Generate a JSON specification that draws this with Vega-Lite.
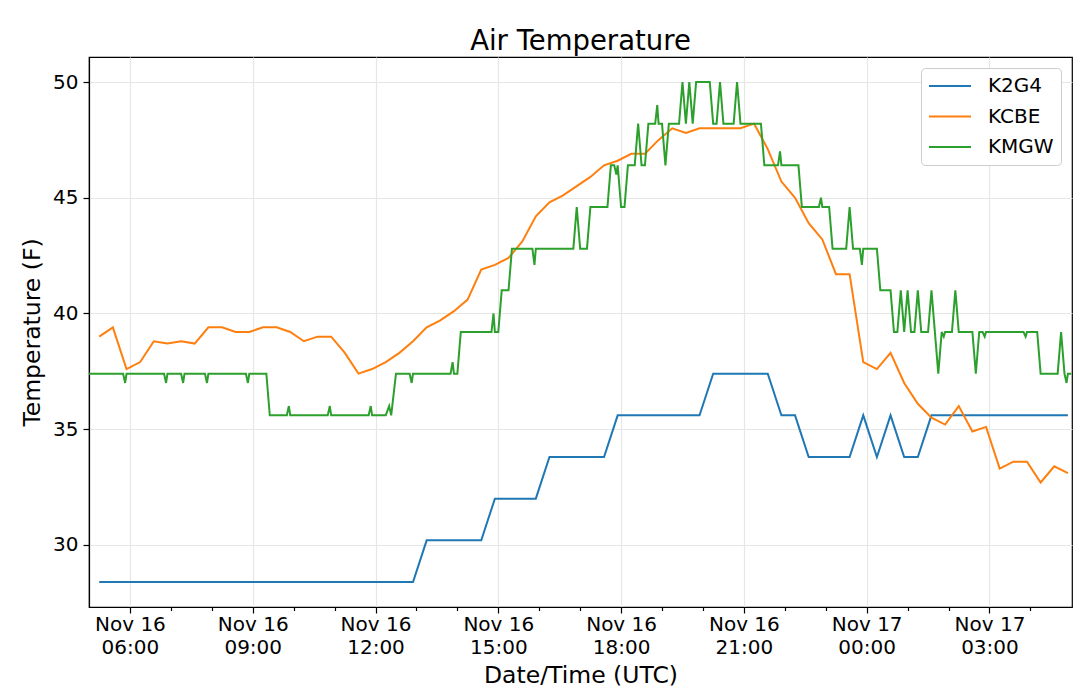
{
  "$schema": "https://vega.github.io/schema/vega-lite/v6.json",
  "autosize": "none",
  "width": 983,
  "height": 550,
  "padding": {"left": 89, "top": 57, "right": 8, "bottom": 82},
  "background": "white",
  "title": {"text": "Air Temperature", "fontSize": 27.5, "fontWeight": "normal", "color": "black", "anchor": "middle", "frame": "group", "offset": 2},
  "data": {
    "values": [
      {"time": "2019-11-16T05:15Z", "station": "K2G4", "temp": 28.4},
      {"time": "2019-11-16T12:55Z", "station": "K2G4", "temp": 28.4},
      {"time": "2019-11-16T13:15Z", "station": "K2G4", "temp": 30.2},
      {"time": "2019-11-16T14:35Z", "station": "K2G4", "temp": 30.2},
      {"time": "2019-11-16T14:55Z", "station": "K2G4", "temp": 32.0},
      {"time": "2019-11-16T15:55Z", "station": "K2G4", "temp": 32.0},
      {"time": "2019-11-16T16:15Z", "station": "K2G4", "temp": 33.8},
      {"time": "2019-11-16T17:35Z", "station": "K2G4", "temp": 33.8},
      {"time": "2019-11-16T17:55Z", "station": "K2G4", "temp": 35.6},
      {"time": "2019-11-16T19:55Z", "station": "K2G4", "temp": 35.6},
      {"time": "2019-11-16T20:15Z", "station": "K2G4", "temp": 37.4},
      {"time": "2019-11-16T21:35Z", "station": "K2G4", "temp": 37.4},
      {"time": "2019-11-16T21:55Z", "station": "K2G4", "temp": 35.6},
      {"time": "2019-11-16T22:15Z", "station": "K2G4", "temp": 35.6},
      {"time": "2019-11-16T22:35Z", "station": "K2G4", "temp": 33.8},
      {"time": "2019-11-16T23:35Z", "station": "K2G4", "temp": 33.8},
      {"time": "2019-11-16T23:55Z", "station": "K2G4", "temp": 35.6},
      {"time": "2019-11-17T00:15Z", "station": "K2G4", "temp": 33.8},
      {"time": "2019-11-17T00:35Z", "station": "K2G4", "temp": 35.6},
      {"time": "2019-11-17T00:55Z", "station": "K2G4", "temp": 33.8},
      {"time": "2019-11-17T01:15Z", "station": "K2G4", "temp": 33.8},
      {"time": "2019-11-17T01:35Z", "station": "K2G4", "temp": 35.6},
      {"time": "2019-11-17T04:55Z", "station": "K2G4", "temp": 35.6},

      {"time": "2019-11-16T05:15Z", "station": "KCBE", "temp": 39.0},
      {"time": "2019-11-16T05:35Z", "station": "KCBE", "temp": 39.4},
      {"time": "2019-11-16T05:55Z", "station": "KCBE", "temp": 37.6},
      {"time": "2019-11-16T06:15Z", "station": "KCBE", "temp": 37.9},
      {"time": "2019-11-16T06:35Z", "station": "KCBE", "temp": 38.8},
      {"time": "2019-11-16T06:55Z", "station": "KCBE", "temp": 38.7},
      {"time": "2019-11-16T07:15Z", "station": "KCBE", "temp": 38.8},
      {"time": "2019-11-16T07:35Z", "station": "KCBE", "temp": 38.7},
      {"time": "2019-11-16T07:55Z", "station": "KCBE", "temp": 39.4},
      {"time": "2019-11-16T08:15Z", "station": "KCBE", "temp": 39.4},
      {"time": "2019-11-16T08:35Z", "station": "KCBE", "temp": 39.2},
      {"time": "2019-11-16T08:55Z", "station": "KCBE", "temp": 39.2},
      {"time": "2019-11-16T09:15Z", "station": "KCBE", "temp": 39.4},
      {"time": "2019-11-16T09:35Z", "station": "KCBE", "temp": 39.4},
      {"time": "2019-11-16T09:55Z", "station": "KCBE", "temp": 39.2},
      {"time": "2019-11-16T10:15Z", "station": "KCBE", "temp": 38.8},
      {"time": "2019-11-16T10:35Z", "station": "KCBE", "temp": 39.0},
      {"time": "2019-11-16T10:55Z", "station": "KCBE", "temp": 39.0},
      {"time": "2019-11-16T11:15Z", "station": "KCBE", "temp": 38.3},
      {"time": "2019-11-16T11:35Z", "station": "KCBE", "temp": 37.4},
      {"time": "2019-11-16T11:55Z", "station": "KCBE", "temp": 37.6},
      {"time": "2019-11-16T12:15Z", "station": "KCBE", "temp": 37.9},
      {"time": "2019-11-16T12:35Z", "station": "KCBE", "temp": 38.3},
      {"time": "2019-11-16T12:55Z", "station": "KCBE", "temp": 38.8},
      {"time": "2019-11-16T13:15Z", "station": "KCBE", "temp": 39.4},
      {"time": "2019-11-16T13:35Z", "station": "KCBE", "temp": 39.7},
      {"time": "2019-11-16T13:55Z", "station": "KCBE", "temp": 40.1},
      {"time": "2019-11-16T14:15Z", "station": "KCBE", "temp": 40.6},
      {"time": "2019-11-16T14:35Z", "station": "KCBE", "temp": 41.9},
      {"time": "2019-11-16T14:55Z", "station": "KCBE", "temp": 42.1},
      {"time": "2019-11-16T15:15Z", "station": "KCBE", "temp": 42.4},
      {"time": "2019-11-16T15:35Z", "station": "KCBE", "temp": 43.1},
      {"time": "2019-11-16T15:55Z", "station": "KCBE", "temp": 44.2},
      {"time": "2019-11-16T16:15Z", "station": "KCBE", "temp": 44.8},
      {"time": "2019-11-16T16:35Z", "station": "KCBE", "temp": 45.1},
      {"time": "2019-11-16T16:55Z", "station": "KCBE", "temp": 45.5},
      {"time": "2019-11-16T17:15Z", "station": "KCBE", "temp": 45.9},
      {"time": "2019-11-16T17:35Z", "station": "KCBE", "temp": 46.4},
      {"time": "2019-11-16T17:55Z", "station": "KCBE", "temp": 46.6},
      {"time": "2019-11-16T18:15Z", "station": "KCBE", "temp": 46.9},
      {"time": "2019-11-16T18:35Z", "station": "KCBE", "temp": 46.9},
      {"time": "2019-11-16T18:55Z", "station": "KCBE", "temp": 47.5},
      {"time": "2019-11-16T19:15Z", "station": "KCBE", "temp": 48.0},
      {"time": "2019-11-16T19:35Z", "station": "KCBE", "temp": 47.8},
      {"time": "2019-11-16T19:55Z", "station": "KCBE", "temp": 48.0},
      {"time": "2019-11-16T20:15Z", "station": "KCBE", "temp": 48.0},
      {"time": "2019-11-16T20:35Z", "station": "KCBE", "temp": 48.0},
      {"time": "2019-11-16T20:55Z", "station": "KCBE", "temp": 48.0},
      {"time": "2019-11-16T21:15Z", "station": "KCBE", "temp": 48.2},
      {"time": "2019-11-16T21:35Z", "station": "KCBE", "temp": 47.1},
      {"time": "2019-11-16T21:55Z", "station": "KCBE", "temp": 45.7},
      {"time": "2019-11-16T22:15Z", "station": "KCBE", "temp": 45.0},
      {"time": "2019-11-16T22:35Z", "station": "KCBE", "temp": 43.9},
      {"time": "2019-11-16T22:55Z", "station": "KCBE", "temp": 43.2},
      {"time": "2019-11-16T23:15Z", "station": "KCBE", "temp": 41.7},
      {"time": "2019-11-16T23:35Z", "station": "KCBE", "temp": 41.7},
      {"time": "2019-11-16T23:55Z", "station": "KCBE", "temp": 37.9},
      {"time": "2019-11-17T00:15Z", "station": "KCBE", "temp": 37.6},
      {"time": "2019-11-17T00:35Z", "station": "KCBE", "temp": 38.3},
      {"time": "2019-11-17T00:55Z", "station": "KCBE", "temp": 37.0},
      {"time": "2019-11-17T01:15Z", "station": "KCBE", "temp": 36.1},
      {"time": "2019-11-17T01:35Z", "station": "KCBE", "temp": 35.5},
      {"time": "2019-11-17T01:55Z", "station": "KCBE", "temp": 35.2},
      {"time": "2019-11-17T02:15Z", "station": "KCBE", "temp": 36.0},
      {"time": "2019-11-17T02:35Z", "station": "KCBE", "temp": 34.9},
      {"time": "2019-11-17T02:55Z", "station": "KCBE", "temp": 35.1},
      {"time": "2019-11-17T03:15Z", "station": "KCBE", "temp": 33.3},
      {"time": "2019-11-17T03:35Z", "station": "KCBE", "temp": 33.6},
      {"time": "2019-11-17T03:55Z", "station": "KCBE", "temp": 33.6},
      {"time": "2019-11-17T04:15Z", "station": "KCBE", "temp": 32.7},
      {"time": "2019-11-17T04:35Z", "station": "KCBE", "temp": 33.4},
      {"time": "2019-11-17T04:55Z", "station": "KCBE", "temp": 33.1},

      {"time": "2019-11-16T05:00Z", "station": "KMGW", "temp": 37.4},
      {"time": "2019-11-16T05:50Z", "station": "KMGW", "temp": 37.4},
      {"time": "2019-11-16T05:53Z", "station": "KMGW", "temp": 37.0},
      {"time": "2019-11-16T05:55Z", "station": "KMGW", "temp": 37.4},
      {"time": "2019-11-16T06:50Z", "station": "KMGW", "temp": 37.4},
      {"time": "2019-11-16T06:53Z", "station": "KMGW", "temp": 37.0},
      {"time": "2019-11-16T06:55Z", "station": "KMGW", "temp": 37.4},
      {"time": "2019-11-16T07:15Z", "station": "KMGW", "temp": 37.4},
      {"time": "2019-11-16T07:18Z", "station": "KMGW", "temp": 37.0},
      {"time": "2019-11-16T07:20Z", "station": "KMGW", "temp": 37.4},
      {"time": "2019-11-16T07:50Z", "station": "KMGW", "temp": 37.4},
      {"time": "2019-11-16T07:53Z", "station": "KMGW", "temp": 37.0},
      {"time": "2019-11-16T07:55Z", "station": "KMGW", "temp": 37.4},
      {"time": "2019-11-16T08:50Z", "station": "KMGW", "temp": 37.4},
      {"time": "2019-11-16T08:53Z", "station": "KMGW", "temp": 37.0},
      {"time": "2019-11-16T08:55Z", "station": "KMGW", "temp": 37.4},
      {"time": "2019-11-16T09:20Z", "station": "KMGW", "temp": 37.4},
      {"time": "2019-11-16T09:25Z", "station": "KMGW", "temp": 35.6},
      {"time": "2019-11-16T09:50Z", "station": "KMGW", "temp": 35.6},
      {"time": "2019-11-16T09:53Z", "station": "KMGW", "temp": 36.0},
      {"time": "2019-11-16T09:55Z", "station": "KMGW", "temp": 35.6},
      {"time": "2019-11-16T10:50Z", "station": "KMGW", "temp": 35.6},
      {"time": "2019-11-16T10:53Z", "station": "KMGW", "temp": 36.0},
      {"time": "2019-11-16T10:55Z", "station": "KMGW", "temp": 35.6},
      {"time": "2019-11-16T11:50Z", "station": "KMGW", "temp": 35.6},
      {"time": "2019-11-16T11:53Z", "station": "KMGW", "temp": 36.0},
      {"time": "2019-11-16T11:55Z", "station": "KMGW", "temp": 35.6},
      {"time": "2019-11-16T12:15Z", "station": "KMGW", "temp": 35.6},
      {"time": "2019-11-16T12:20Z", "station": "KMGW", "temp": 36.0},
      {"time": "2019-11-16T12:23Z", "station": "KMGW", "temp": 35.6},
      {"time": "2019-11-16T12:30Z", "station": "KMGW", "temp": 37.4},
      {"time": "2019-11-16T12:50Z", "station": "KMGW", "temp": 37.4},
      {"time": "2019-11-16T12:53Z", "station": "KMGW", "temp": 37.0},
      {"time": "2019-11-16T12:55Z", "station": "KMGW", "temp": 37.4},
      {"time": "2019-11-16T13:50Z", "station": "KMGW", "temp": 37.4},
      {"time": "2019-11-16T13:53Z", "station": "KMGW", "temp": 37.9},
      {"time": "2019-11-16T13:55Z", "station": "KMGW", "temp": 37.4},
      {"time": "2019-11-16T14:00Z", "station": "KMGW", "temp": 37.4},
      {"time": "2019-11-16T14:05Z", "station": "KMGW", "temp": 39.2},
      {"time": "2019-11-16T14:50Z", "station": "KMGW", "temp": 39.2},
      {"time": "2019-11-16T14:53Z", "station": "KMGW", "temp": 40.0},
      {"time": "2019-11-16T14:55Z", "station": "KMGW", "temp": 39.2},
      {"time": "2019-11-16T15:00Z", "station": "KMGW", "temp": 39.2},
      {"time": "2019-11-16T15:05Z", "station": "KMGW", "temp": 41.0},
      {"time": "2019-11-16T15:15Z", "station": "KMGW", "temp": 41.0},
      {"time": "2019-11-16T15:20Z", "station": "KMGW", "temp": 42.8},
      {"time": "2019-11-16T15:50Z", "station": "KMGW", "temp": 42.8},
      {"time": "2019-11-16T15:53Z", "station": "KMGW", "temp": 42.1},
      {"time": "2019-11-16T15:55Z", "station": "KMGW", "temp": 42.8},
      {"time": "2019-11-16T16:50Z", "station": "KMGW", "temp": 42.8},
      {"time": "2019-11-16T16:55Z", "station": "KMGW", "temp": 44.6},
      {"time": "2019-11-16T17:00Z", "station": "KMGW", "temp": 42.8},
      {"time": "2019-11-16T17:10Z", "station": "KMGW", "temp": 42.8},
      {"time": "2019-11-16T17:15Z", "station": "KMGW", "temp": 44.6},
      {"time": "2019-11-16T17:40Z", "station": "KMGW", "temp": 44.6},
      {"time": "2019-11-16T17:45Z", "station": "KMGW", "temp": 46.4},
      {"time": "2019-11-16T17:50Z", "station": "KMGW", "temp": 46.4},
      {"time": "2019-11-16T17:53Z", "station": "KMGW", "temp": 46.0},
      {"time": "2019-11-16T17:55Z", "station": "KMGW", "temp": 46.4},
      {"time": "2019-11-16T18:00Z", "station": "KMGW", "temp": 44.6},
      {"time": "2019-11-16T18:05Z", "station": "KMGW", "temp": 44.6},
      {"time": "2019-11-16T18:10Z", "station": "KMGW", "temp": 46.4},
      {"time": "2019-11-16T18:20Z", "station": "KMGW", "temp": 46.4},
      {"time": "2019-11-16T18:25Z", "station": "KMGW", "temp": 48.2},
      {"time": "2019-11-16T18:30Z", "station": "KMGW", "temp": 46.4},
      {"time": "2019-11-16T18:35Z", "station": "KMGW", "temp": 46.4},
      {"time": "2019-11-16T18:40Z", "station": "KMGW", "temp": 48.2},
      {"time": "2019-11-16T18:50Z", "station": "KMGW", "temp": 48.2},
      {"time": "2019-11-16T18:53Z", "station": "KMGW", "temp": 49.0},
      {"time": "2019-11-16T18:55Z", "station": "KMGW", "temp": 48.2},
      {"time": "2019-11-16T19:00Z", "station": "KMGW", "temp": 48.2},
      {"time": "2019-11-16T19:05Z", "station": "KMGW", "temp": 46.4},
      {"time": "2019-11-16T19:10Z", "station": "KMGW", "temp": 48.2},
      {"time": "2019-11-16T19:25Z", "station": "KMGW", "temp": 48.2},
      {"time": "2019-11-16T19:30Z", "station": "KMGW", "temp": 50.0},
      {"time": "2019-11-16T19:35Z", "station": "KMGW", "temp": 48.2},
      {"time": "2019-11-16T19:40Z", "station": "KMGW", "temp": 50.0},
      {"time": "2019-11-16T19:45Z", "station": "KMGW", "temp": 48.2},
      {"time": "2019-11-16T19:50Z", "station": "KMGW", "temp": 50.0},
      {"time": "2019-11-16T20:10Z", "station": "KMGW", "temp": 50.0},
      {"time": "2019-11-16T20:15Z", "station": "KMGW", "temp": 48.2},
      {"time": "2019-11-16T20:20Z", "station": "KMGW", "temp": 48.2},
      {"time": "2019-11-16T20:25Z", "station": "KMGW", "temp": 50.0},
      {"time": "2019-11-16T20:30Z", "station": "KMGW", "temp": 48.2},
      {"time": "2019-11-16T20:45Z", "station": "KMGW", "temp": 48.2},
      {"time": "2019-11-16T20:50Z", "station": "KMGW", "temp": 50.0},
      {"time": "2019-11-16T20:55Z", "station": "KMGW", "temp": 48.2},
      {"time": "2019-11-16T21:25Z", "station": "KMGW", "temp": 48.2},
      {"time": "2019-11-16T21:30Z", "station": "KMGW", "temp": 46.4},
      {"time": "2019-11-16T21:50Z", "station": "KMGW", "temp": 46.4},
      {"time": "2019-11-16T21:53Z", "station": "KMGW", "temp": 47.0},
      {"time": "2019-11-16T21:55Z", "station": "KMGW", "temp": 46.4},
      {"time": "2019-11-16T22:20Z", "station": "KMGW", "temp": 46.4},
      {"time": "2019-11-16T22:25Z", "station": "KMGW", "temp": 44.6},
      {"time": "2019-11-16T22:50Z", "station": "KMGW", "temp": 44.6},
      {"time": "2019-11-16T22:53Z", "station": "KMGW", "temp": 45.0},
      {"time": "2019-11-16T22:55Z", "station": "KMGW", "temp": 44.6},
      {"time": "2019-11-16T23:05Z", "station": "KMGW", "temp": 44.6},
      {"time": "2019-11-16T23:10Z", "station": "KMGW", "temp": 42.8},
      {"time": "2019-11-16T23:30Z", "station": "KMGW", "temp": 42.8},
      {"time": "2019-11-16T23:35Z", "station": "KMGW", "temp": 44.6},
      {"time": "2019-11-16T23:40Z", "station": "KMGW", "temp": 42.8},
      {"time": "2019-11-16T23:50Z", "station": "KMGW", "temp": 42.8},
      {"time": "2019-11-16T23:53Z", "station": "KMGW", "temp": 42.1},
      {"time": "2019-11-16T23:55Z", "station": "KMGW", "temp": 42.8},
      {"time": "2019-11-17T00:15Z", "station": "KMGW", "temp": 42.8},
      {"time": "2019-11-17T00:20Z", "station": "KMGW", "temp": 41.0},
      {"time": "2019-11-17T00:35Z", "station": "KMGW", "temp": 41.0},
      {"time": "2019-11-17T00:40Z", "station": "KMGW", "temp": 39.2},
      {"time": "2019-11-17T00:45Z", "station": "KMGW", "temp": 39.2},
      {"time": "2019-11-17T00:50Z", "station": "KMGW", "temp": 41.0},
      {"time": "2019-11-17T00:55Z", "station": "KMGW", "temp": 39.2},
      {"time": "2019-11-17T01:00Z", "station": "KMGW", "temp": 41.0},
      {"time": "2019-11-17T01:05Z", "station": "KMGW", "temp": 39.2},
      {"time": "2019-11-17T01:10Z", "station": "KMGW", "temp": 39.2},
      {"time": "2019-11-17T01:15Z", "station": "KMGW", "temp": 41.0},
      {"time": "2019-11-17T01:20Z", "station": "KMGW", "temp": 39.2},
      {"time": "2019-11-17T01:30Z", "station": "KMGW", "temp": 39.2},
      {"time": "2019-11-17T01:35Z", "station": "KMGW", "temp": 41.0},
      {"time": "2019-11-17T01:45Z", "station": "KMGW", "temp": 37.4},
      {"time": "2019-11-17T01:50Z", "station": "KMGW", "temp": 39.2},
      {"time": "2019-11-17T01:53Z", "station": "KMGW", "temp": 39.0},
      {"time": "2019-11-17T01:55Z", "station": "KMGW", "temp": 39.2},
      {"time": "2019-11-17T02:05Z", "station": "KMGW", "temp": 39.2},
      {"time": "2019-11-17T02:10Z", "station": "KMGW", "temp": 41.0},
      {"time": "2019-11-17T02:15Z", "station": "KMGW", "temp": 39.2},
      {"time": "2019-11-17T02:35Z", "station": "KMGW", "temp": 39.2},
      {"time": "2019-11-17T02:40Z", "station": "KMGW", "temp": 37.4},
      {"time": "2019-11-17T02:45Z", "station": "KMGW", "temp": 39.2},
      {"time": "2019-11-17T02:50Z", "station": "KMGW", "temp": 39.2},
      {"time": "2019-11-17T02:53Z", "station": "KMGW", "temp": 39.0},
      {"time": "2019-11-17T02:55Z", "station": "KMGW", "temp": 39.2},
      {"time": "2019-11-17T03:50Z", "station": "KMGW", "temp": 39.2},
      {"time": "2019-11-17T03:53Z", "station": "KMGW", "temp": 39.0},
      {"time": "2019-11-17T03:55Z", "station": "KMGW", "temp": 39.2},
      {"time": "2019-11-17T04:10Z", "station": "KMGW", "temp": 39.2},
      {"time": "2019-11-17T04:15Z", "station": "KMGW", "temp": 37.4},
      {"time": "2019-11-17T04:40Z", "station": "KMGW", "temp": 37.4},
      {"time": "2019-11-17T04:45Z", "station": "KMGW", "temp": 39.2},
      {"time": "2019-11-17T04:50Z", "station": "KMGW", "temp": 37.4},
      {"time": "2019-11-17T04:53Z", "station": "KMGW", "temp": 37.0},
      {"time": "2019-11-17T04:55Z", "station": "KMGW", "temp": 37.4},
      {"time": "2019-11-17T05:00Z", "station": "KMGW", "temp": 37.4}
    ]
  },
  "encoding": {
    "y": {
      "field": "temp", "type": "quantitative",
      "scale": {"domain": [27.32, 51.08], "nice": false, "zero": false},
      "axis": {"title": "Temperature (F)", "values": [30, 35, 40, 45, 50], "format": "d", "titlePadding": 8}
    }
  },
  "layer": [
    {
      "mark": {"type": "line", "strokeWidth": 2},
      "encoding": {
        "x": {
          "field": "time", "type": "temporal",
          "scale": {"type": "utc", "nice": false, "domain": [
            {"year": 2019, "month": 11, "date": 16, "hours": 5, "utc": true},
            {"year": 2019, "month": 11, "date": 17, "hours": 5, "minutes": 1, "utc": true}
          ]},
          "axis": {
            "title": "Date/Time (UTC)",
            "orient": "bottom",
            "values": [
              {"year": 2019, "month": 11, "date": 16, "hours": 6, "utc": true},
              {"year": 2019, "month": 11, "date": 16, "hours": 9, "utc": true},
              {"year": 2019, "month": 11, "date": 16, "hours": 12, "utc": true},
              {"year": 2019, "month": 11, "date": 16, "hours": 15, "utc": true},
              {"year": 2019, "month": 11, "date": 16, "hours": 18, "utc": true},
              {"year": 2019, "month": 11, "date": 16, "hours": 21, "utc": true},
              {"year": 2019, "month": 11, "date": 17, "hours": 0, "utc": true},
              {"year": 2019, "month": 11, "date": 17, "hours": 3, "utc": true}
            ],
            "labelExpr": "[utcFormat(datum.value, '%b %d'), utcFormat(datum.value, '%H:%M')]",
            "labelLineHeight": 23.5,
            "labelPadding": 1,
            "titlePadding": 6
          }
        },
        "color": {
          "field": "station", "type": "nominal",
          "scale": {"domain": ["K2G4", "KCBE", "KMGW"], "range": ["#1f77b4", "#ff7f0e", "#2ca02c"]},
          "legend": {"title": null}
        }
      }
    },
    {
      "mark": {"type": "line", "strokeOpacity": 0},
      "encoding": {
        "x": {
          "field": "time", "type": "temporal",
          "axis": {
            "orient": "bottom",
            "title": null,
            "labels": false,
            "grid": false,
            "domain": false,
            "tickSize": 3.5,
            "values": [
              {"year": 2019, "month": 11, "date": 16, "hours": 7, "utc": true},
              {"year": 2019, "month": 11, "date": 16, "hours": 8, "utc": true},
              {"year": 2019, "month": 11, "date": 16, "hours": 10, "utc": true},
              {"year": 2019, "month": 11, "date": 16, "hours": 11, "utc": true},
              {"year": 2019, "month": 11, "date": 16, "hours": 13, "utc": true},
              {"year": 2019, "month": 11, "date": 16, "hours": 14, "utc": true},
              {"year": 2019, "month": 11, "date": 16, "hours": 16, "utc": true},
              {"year": 2019, "month": 11, "date": 16, "hours": 17, "utc": true},
              {"year": 2019, "month": 11, "date": 16, "hours": 19, "utc": true},
              {"year": 2019, "month": 11, "date": 16, "hours": 20, "utc": true},
              {"year": 2019, "month": 11, "date": 16, "hours": 22, "utc": true},
              {"year": 2019, "month": 11, "date": 16, "hours": 23, "utc": true},
              {"year": 2019, "month": 11, "date": 17, "hours": 1, "utc": true},
              {"year": 2019, "month": 11, "date": 17, "hours": 2, "utc": true},
              {"year": 2019, "month": 11, "date": 17, "hours": 4, "utc": true}
            ]
          }
        },
        "detail": {"field": "station", "type": "nominal"}
      }
    }
  ],
  "resolve": {"axis": {"x": "independent"}},
  "config": {
    "font": "DejaVu Sans",
    "view": {"stroke": "black", "strokeWidth": 1.2},
    "axis": {
      "domainColor": "black",
      "domainWidth": 1.2,
      "tickColor": "black",
      "tickSize": 6,
      "tickWidth": 1.2,
      "labelColor": "black",
      "labelFontSize": 20,
      "labelPadding": 5,
      "titleColor": "black",
      "titleFontSize": 23.5,
      "titleFontWeight": "normal",
      "gridColor": "#e6e6e6",
      "gridWidth": 1.2
    },
    "axisX": {"labelBaseline": "top"},
    "legend": {
      "orient": "top-right",
      "offset": 11,
      "symbolType": "stroke",
      "symbolSize": 1764,
      "symbolStrokeWidth": 2,
      "clipHeight": 22,
      "labelFontSize": 20,
      "labelColor": "black",
      "labelOffset": 16,
      "fillColor": "white",
      "strokeColor": "#cccccc",
      "cornerRadius": 4,
      "padding": 7,
      "rowPadding": 8.5
    }
  }
}
